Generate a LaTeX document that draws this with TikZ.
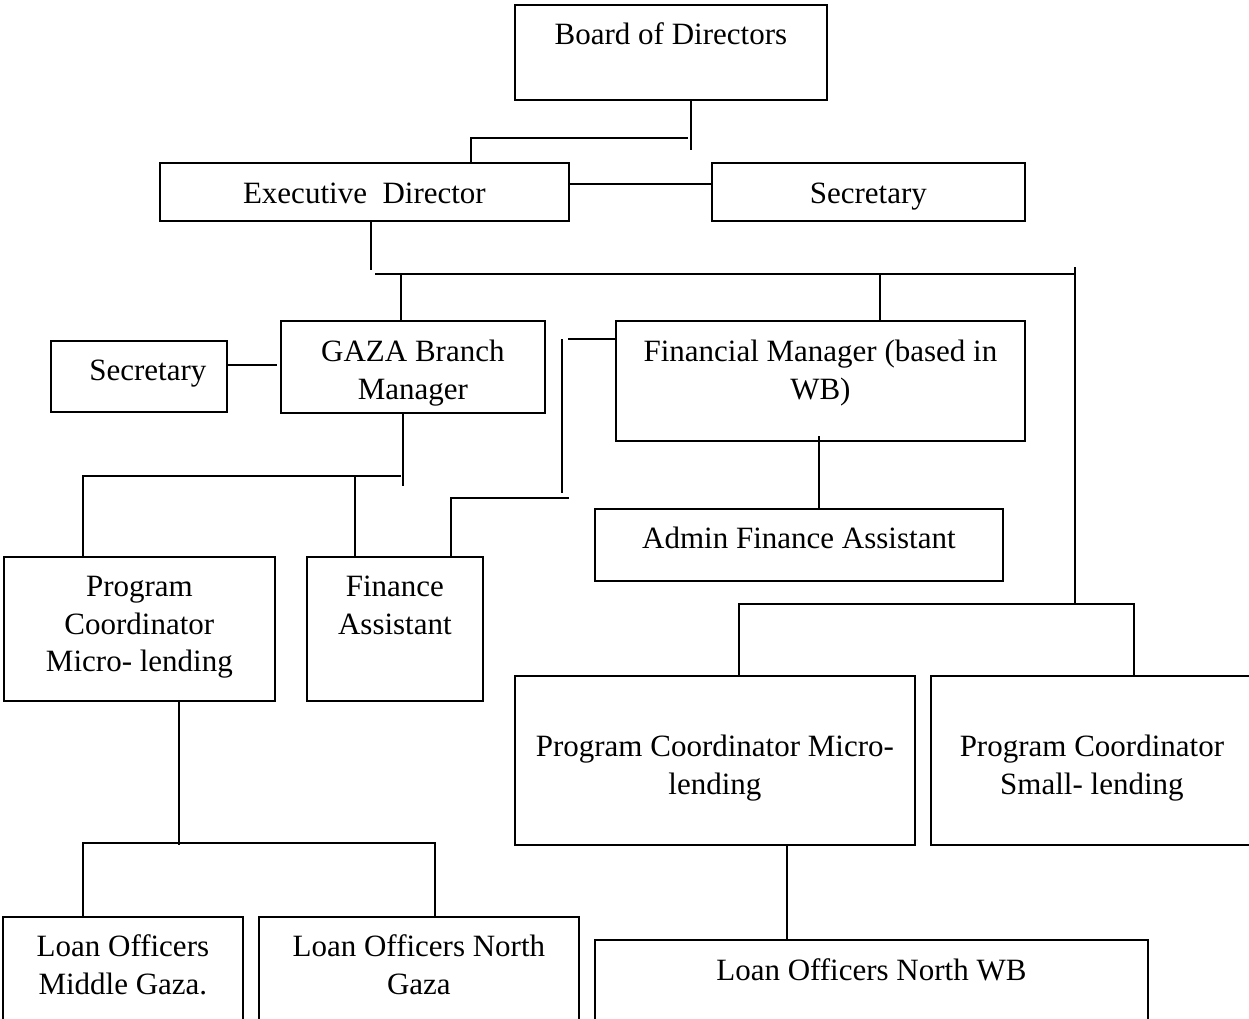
\documentclass[tikz,border=0pt]{standalone}
\usepackage{fontspec}
\setmainfont{Liberation Serif}
\newcommand{\postlines}[1]{\begin{tabular}[t]{@{}c@{}}#1\end{tabular}}
\begin{document}
\begin{tikzpicture}[x=1pt, y=-1pt, line width=1.8pt,
  post/.style={draw, anchor=north west, inner sep=0pt, font=\fontsize{31}{37.5}\selectfont}]
\useasboundingbox (0,0) rectangle (1249,1018);
\clip (0,0) rectangle (1249,1018);

\node[post, minimum width=312pt, text height=40pt, text depth=55pt] (board) at (514,4) {Board of Directors};
\node[post, minimum width=409pt, text height=41pt, text depth=17pt] (exec) at (159,162) {Executive\ \ Director};
\node[post, minimum width=313pt, text height=41pt, text depth=17pt] (sec) at (711,162) {Secretary};
\node[post, minimum width=176pt, text height=40pt, text depth=31pt] (gsec) at (50,340) {\hspace*{18pt}Secretary};
\node[post, minimum width=264pt, text height=41pt, text depth=51pt] (gaza) at (280,320) {\postlines{GAZA Branch\\Manager}};
\node[post, minimum width=409pt, text height=41pt, text depth=79pt] (fin) at (615,320) {\postlines{Financial Manager (based in\\WB)}};
\node[post, minimum width=408pt, text height=40pt, text depth=32pt] (admin) at (594,508) {Admin Finance Assistant};
\node[post, minimum width=271pt, text height=40pt, text depth=104pt] (gpc) at (3,556) {\postlines{Program\\Coordinator\\Micro- lending}};
\node[post, minimum width=176pt, text height=40pt, text depth=104pt] (gfa) at (306,556) {\postlines{Finance\\Assistant}};
\node[post, minimum width=400pt, text height=81pt, text depth=88pt] (wbmicro) at (514,675) {\postlines{Program Coordinator Micro-\\lending}};
\node[post, minimum width=322pt, text height=81pt, text depth=88pt] (wbsmall) at (930,675) {\postlines{Program Coordinator\\Small- lending}};
\node[post, minimum width=240pt, text height=40pt, text depth=74pt] (lomid) at (2,916) {\postlines{Loan Officers\\Middle Gaza.}};
\node[post, minimum width=320pt, text height=40pt, text depth=74pt] (lonorth) at (258,916) {\postlines{Loan Officers North\\Gaza}};
\node[post, minimum width=553pt, text height=41pt, text depth=60pt] (lowb) at (594,939) {Loan Officers North WB};

% board and executive director
\draw ([xshift=20pt]board.south) -- ++(0,49);
\coordinate (bd) at (471,138);
\draw (exec.north -| bd) -- (bd) -- ++(217,0);
\draw ([yshift=8pt]exec.east) -- ([yshift=8pt]sec.west);

% main bus
\draw ([xshift=6.5pt]exec.south) -- ++(0,48);
\coordinate (busL) at (375,274);
\coordinate (busR) at (1075,274);
\draw (busL) -- (busR);
\draw ([xshift=-12pt]gaza.north) -- ++(0,-46);
\draw ([xshift=59.5pt]fin.north) -- ++(0,-46);
\coordinate (wb) at (1075,604);
\draw ([yshift=7pt]busR) -- (wb);
\draw ([xshift=24pt]wbmicro.north) -- ++(0,-71) -| ([xshift=42pt]wbsmall.north);

% gaza branch
\draw ([yshift=11.5pt]gsec.east) -- ++(49,0);
\draw ([xshift=-10pt]gaza.south) -- ++(0,72);
\draw ([xshift=-56.5pt]gpc.north) |- ++(318,-80);
\draw ([xshift=-40pt]gfa.north) -- ++(0,-81);

% finance links
\draw ([yshift=42pt]fin.west) -- ++(-47,0);
\coordinate (fl) at (562,339);
\draw (fl) -- ++(0,154);
\draw ([xshift=56pt]gfa.north) |- ++(118,-58);
\draw ([xshift=20pt]admin.north) -- ++(0,-72);

% loan officers
\draw ([xshift=39.5pt]gpc.south) -- ++(0,143);
\draw ([xshift=-40pt]lomid.north) -- ++(0,-73) -| ([xshift=16pt]lonorth.north);
\draw ([xshift=72pt]wbmicro.south) -- ([xshift=-84.5pt]lowb.north);
\end{tikzpicture}
\end{document}
